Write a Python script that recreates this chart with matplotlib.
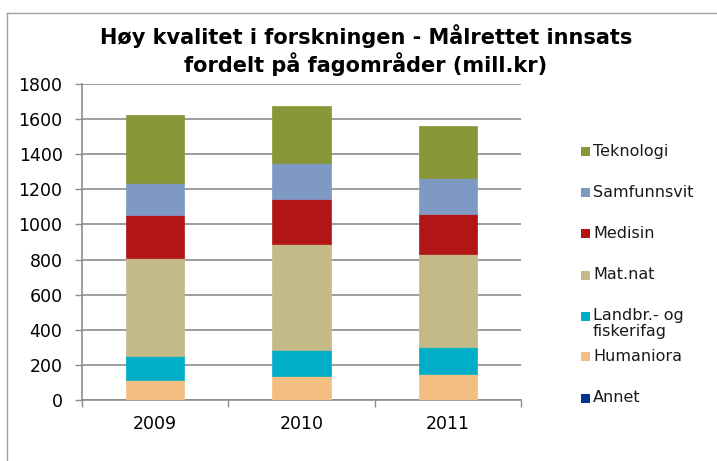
import matplotlib
matplotlib.use("Agg")
import matplotlib.pyplot as plt
from matplotlib.patches import Rectangle
import numpy as np

# data (mill. kr)
years = ["2009", "2010", "2011"]
annet = [0, 0, 0]
humaniora = [115, 138, 149]
landbr = [136, 147, 155]
matnat = [557, 606, 526]
medisin = [243, 254, 230]
samfunnsvit = [187, 204, 206]
teknologi = [385, 323, 293]

series = [
    ("Annet", annet, "#003591"),
    ("Humaniora", humaniora, "#F3BE82"),
    ("Landbr.- og\nfiskerifag", landbr, "#00AEC7"),
    ("Mat.nat", matnat, "#C4BA87"),
    ("Medisin", medisin, "#B11515"),
    ("Samfunnsvit", samfunnsvit, "#7F99C5"),
    ("Teknologi", teknologi, "#879637"),
]

W, H = 717, 461
fig = plt.figure(figsize=(W / 100, H / 100), dpi=100)
ax = fig.add_axes([82 / W, 1 - 400 / H, (521 - 82) / W, (400 - 84) / H])

x = np.arange(len(years))
bottom = np.zeros(len(years))
for name, vals, col in series:
    ax.bar(x, vals, 0.4, bottom=bottom, color=col, edgecolor=col, linewidth=0.5, zorder=3)
    bottom += np.array(vals)

grid_col = "#8c8c8c"
ax.set_ylim(0, 1800)
ax.set_yticks(range(0, 1801, 200))
ax.set_xlim(-0.5, 2.5)
ax.set_xticks(x)
ax.set_xticklabels(years)
ax.set_xticks([-0.5, 0.5, 1.5, 2.5], minor=True)
ax.tick_params(axis="x", which="major", length=0, pad=11, labelsize=12.5)
ax.tick_params(axis="x", which="minor", length=5, color=grid_col, width=1)
ax.tick_params(axis="y", length=5, color=grid_col, width=1, pad=9, labelsize=12.5)
ax.yaxis.grid(True, color=grid_col, linewidth=1.2, zorder=0)
for s in ["top", "right"]:
    ax.spines[s].set_visible(False)
for s in ["left", "bottom"]:
    ax.spines[s].set_color(grid_col)
    ax.spines[s].set_linewidth(1.2)

fig.text(366 / W, 1 - 50 / H,
         "Høy kvalitet i forskningen - Målrettet innsats\nfordelt på fagområder (mill.kr)",
         ha="center", va="center", fontsize=15, fontweight="bold", linespacing=1.2)

# legend, Excel style (top entry = last series)
for i, (name, vals, col) in enumerate(series[::-1]):
    yc = 152 + 41 * i
    fig.patches.append(Rectangle((581 / W, 1 - (yc + 4.5) / H), 9 / W, 9 / H,
                                 transform=fig.transFigure, facecolor=col, edgecolor="none"))
    fig.text(593 / W, 1 - (yc - 8) / H, name, ha="left", va="top", fontsize=11.5,
             linespacing=1.05, color="#1a1a1a")

# chart frame
fig.add_artist(plt.Line2D([7 / W, 7 / W], [0, 1 - 13 / H], transform=fig.transFigure,
                          color="#a0a0a0", linewidth=1))
fig.add_artist(plt.Line2D([7 / W, 1], [1 - 13 / H, 1 - 13 / H], transform=fig.transFigure,
                          color="#a0a0a0", linewidth=1))

fig.savefig("out.png", dpi=100)
